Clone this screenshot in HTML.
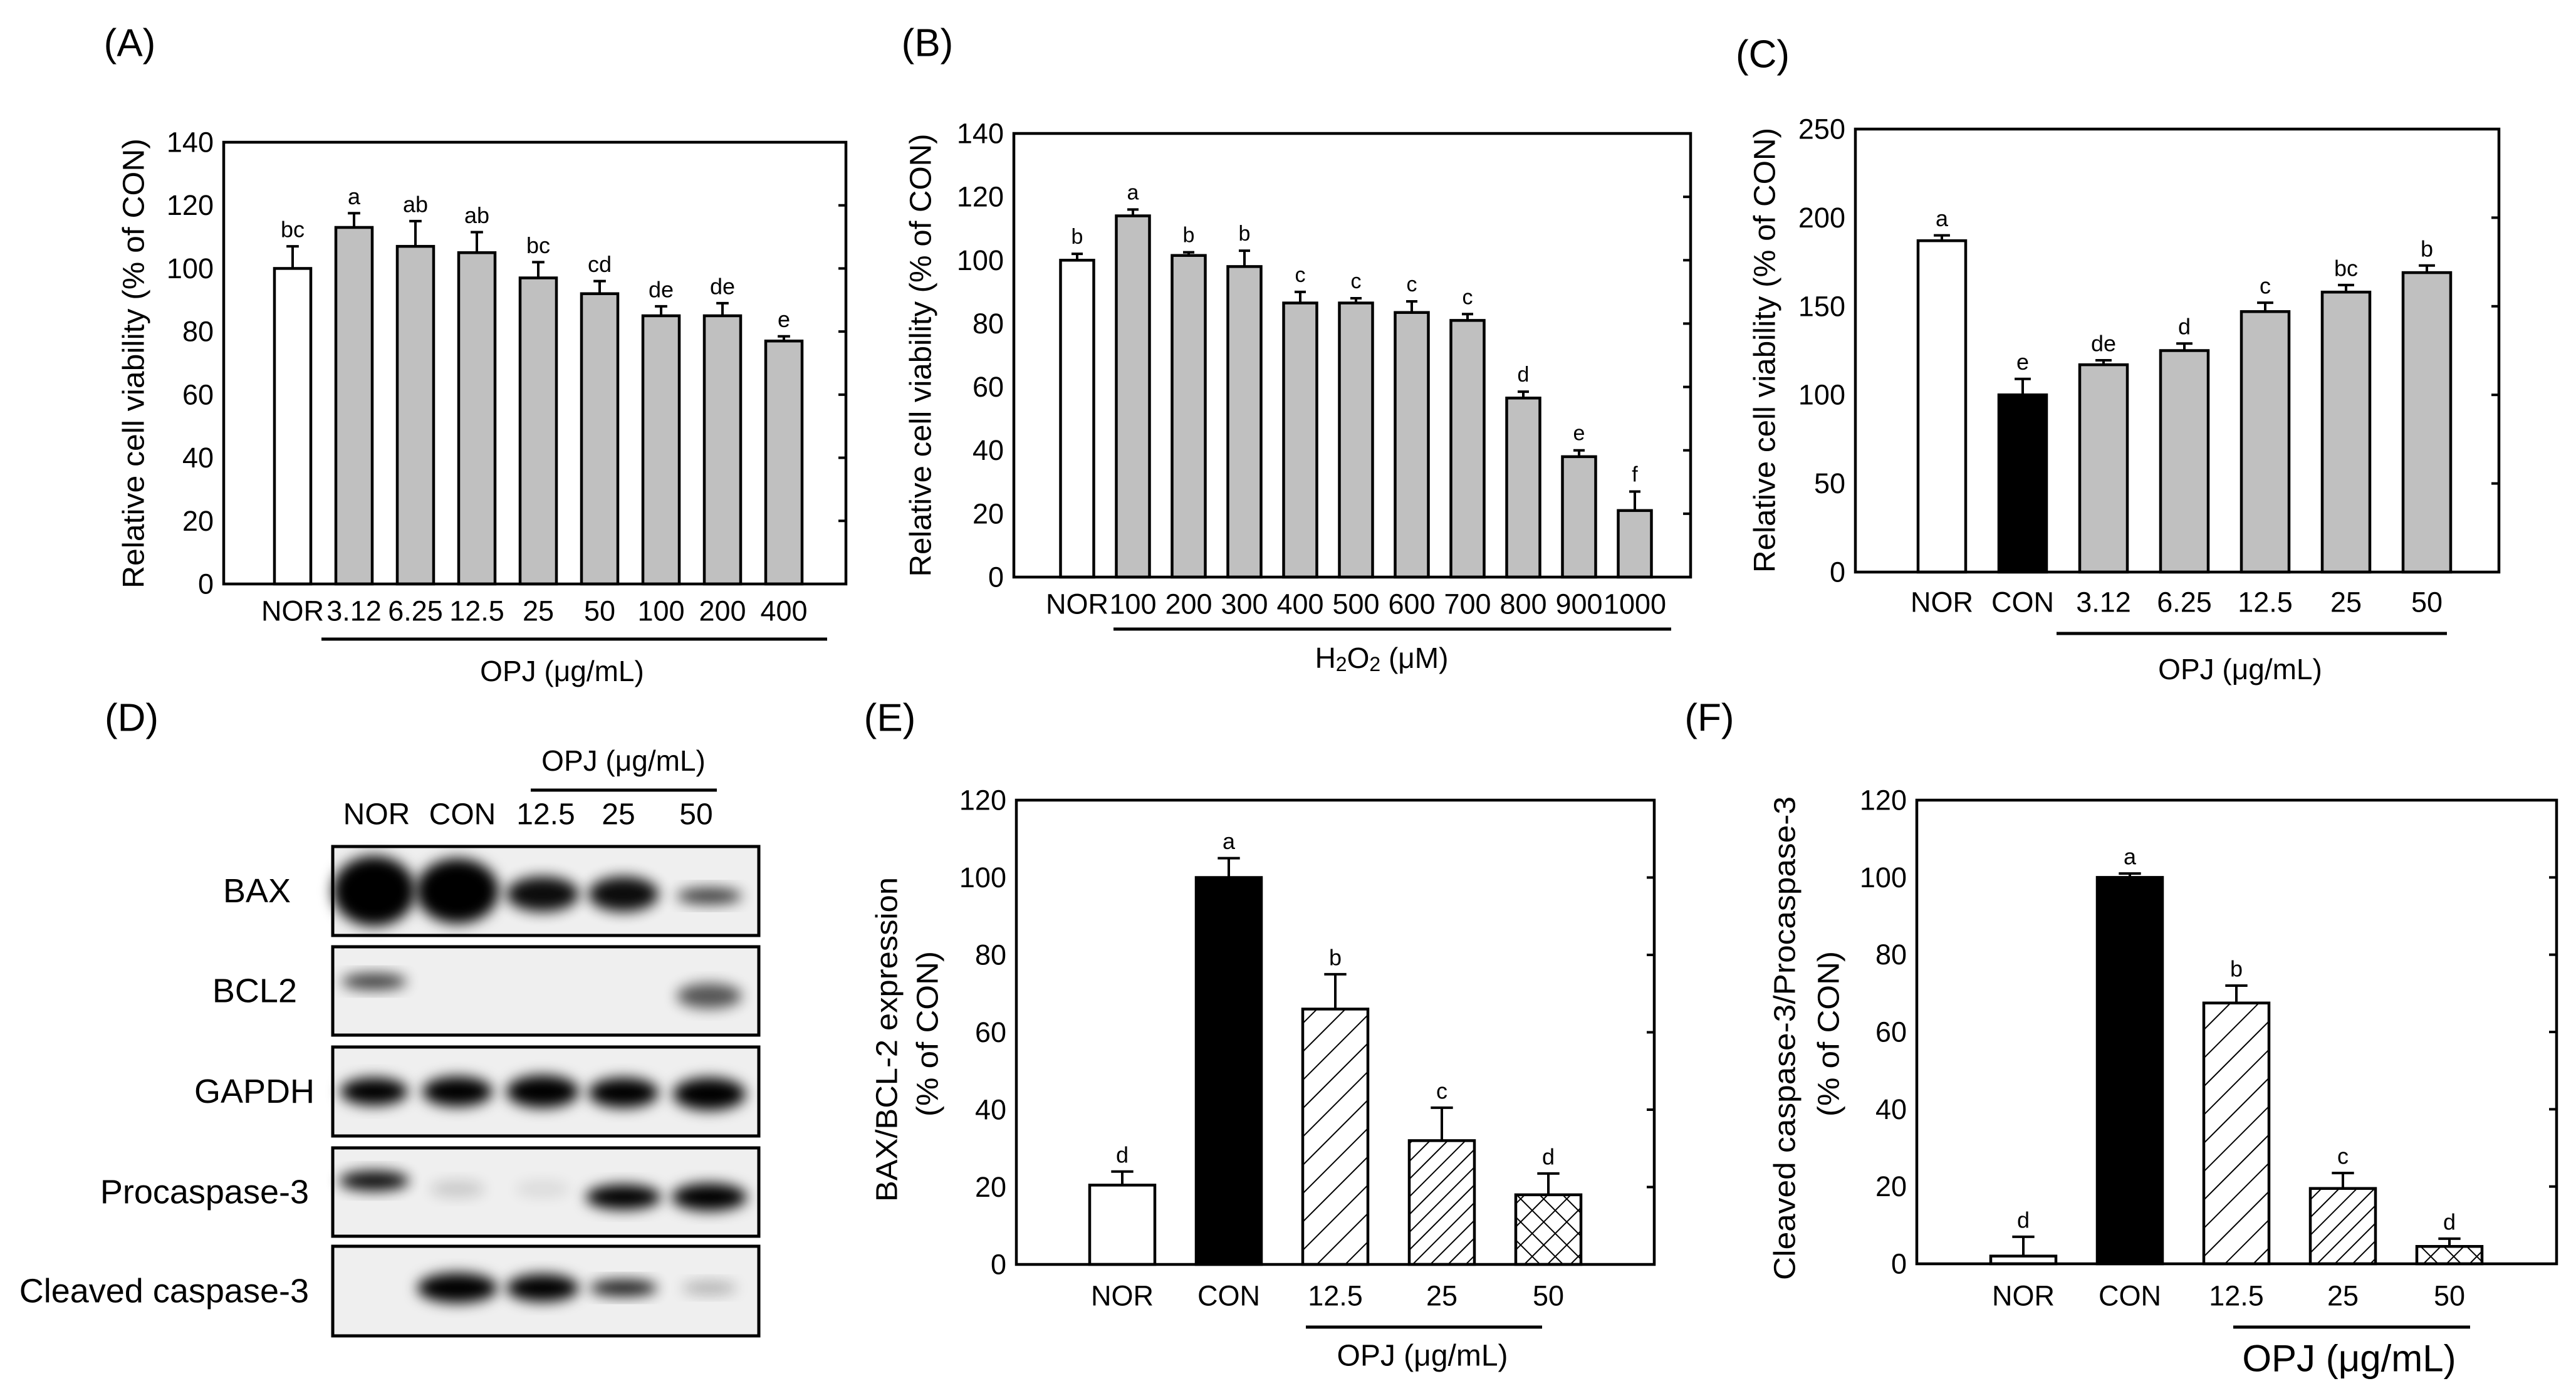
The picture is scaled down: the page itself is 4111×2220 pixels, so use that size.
<!DOCTYPE html>
<html><head><meta charset="utf-8"><style>
html,body{margin:0;padding:0;background:#fff;}
svg{display:block;font-family:"Liberation Sans",Arial,sans-serif;}
</style></head><body>
<svg id="fig" width="4111" height="2220" viewBox="0 0 4111 2220" xmlns="http://www.w3.org/2000/svg">
<defs>
<pattern id="hatchWide" patternUnits="userSpaceOnUse" width="32" height="32" patternTransform="rotate(45)">
<rect width="32" height="32" fill="#fff"/><line x1="0" y1="0" x2="0" y2="32" stroke="#000" stroke-width="4"/></pattern>
<pattern id="hatchNarrow" patternUnits="userSpaceOnUse" width="20" height="20" patternTransform="rotate(45)">
<rect width="20" height="20" fill="#fff"/><line x1="0" y1="0" x2="0" y2="20" stroke="#000" stroke-width="4"/></pattern>
<pattern id="crossHatch" patternUnits="userSpaceOnUse" width="26" height="26" patternTransform="rotate(45)">
<rect width="26" height="26" fill="#fff"/><line x1="0" y1="0" x2="0" y2="26" stroke="#000" stroke-width="4"/><line x1="0" y1="0" x2="26" y2="0" stroke="#000" stroke-width="4"/></pattern>
<filter id="blur" x="-50%" y="-50%" width="200%" height="200%"><feGaussianBlur stdDeviation="11"/></filter>
</defs>
<g id="root"></g>
</svg>
<script>
// Panel A
const catsA = ["NOR","3.12","6.25","12.5","25","50","100","200","400"];
const valsA = [100,113,107,105,97,92,85,85,77];
const errsA = [7,4.5,8,6.5,5,4,3,4,1.5];
const sigA = ["bc","a","ab","ab","bc","cd","de","de","e"];
const ticksA = [0,20,40,60,80,100,120,140];
// Panel B
const catsB = ["NOR","100","200","300","400","500","600","700","800","900","1000"];
const valsB = [100,114,101.5,98,86.5,86.5,83.5,81,56.5,38,21];
const errsB = [2,2,1,5,3.5,1.5,3.5,2,2,2,6];
const sigB = ["b","a","b","b","c","c","c","c","d","e","f"];
const ticksB = [0,20,40,60,80,100,120,140];
// Panel C
const catsC = ["NOR","CON","3.12","6.25","12.5","25","50"];
const valsC = [187,100,117,125,147,158,169];
const errsC = [3,9,2.5,4,5,4,4];
const sigC = ["a","e","de","d","c","bc","b"];
const ticksC = [0,50,100,150,200,250];
// Panel E
const catsE = ["NOR","CON","12.5","25","50"];
const valsE = [20.5,100,66,32,18];
const errsE = [3.5,5,9,8.5,5.5];
const sigE = ["d","a","b","c","d"];
const ticksE = [0,20,40,60,80,100,120];
// Panel F
const catsF = ["NOR","CON","12.5","25","50"];
const valsF = [2,100,67.5,19.5,4.5];
const errsF = [5,1,4.5,4,2];
const sigF = ["d","a","b","c","d"];
const ticksF = [0,20,40,60,80,100,120];

const NS = "http://www.w3.org/2000/svg";
const root = document.getElementById("root");
function mk(tag, attrs, parent){
  const e = document.createElementNS(NS, tag);
  for (const k in attrs) e.setAttribute(k, attrs[k]);
  (parent||root).appendChild(e);
  return e;
}
function txt(s, x, y, size, parent, extra){
  const t = mk("text", Object.assign({x:x, y:y, "font-size":size, "text-anchor":"middle", "dominant-baseline":"central", fill:"#000"}, extra||{}), parent);
  t.textContent = s;
  return t;
}

function chart(id, cfg, cats, vals, errs, sig, ticks, fills){
  const g = mk("g", {});
  
  
  const yMax = ticks[ticks.length-1];
  const y = v => cfg.y0 - (v / yMax) * (cfg.y0 - cfg.top);
  const x = i => cfg.x0 + i * cfg.step;
  ticks.forEach(t => {
    const l = mk("line", {x1:cfg.right-12, x2:cfg.right, y1:y(t), y2:y(t), stroke:"#000", "stroke-width":4}, g);
    
    
    const tl = txt(String(t), cfg.left-16, y(t), cfg.tickFont, g, {"text-anchor":"end"});
    
    
  });
  cats.forEach((c, i) => {
    const bx = x(i) - cfg.bw/2, top = y(vals[i]);
    const et = y(vals[i] + errs[i]);
    const eb = mk("line", {x1:x(i), x2:x(i), y1:top, y2:et, stroke:"#000", "stroke-width":4}, g);
    
    
    const ec = mk("line", {x1:x(i)-cfg.bw*0.17, x2:x(i)+cfg.bw*0.17, y1:et, y2:et, stroke:"#000", "stroke-width":4}, g);
    
    
    const r = mk("rect", {x:bx, y:top, width:cfg.bw, height:cfg.y0-top, fill:fills[i], stroke:"#000", "stroke-width":4.5}, g);
    
    
    const s = txt(sig[i], x(i), et - 27, cfg.sigFont, g);
    
    
    const xl = txt(c, x(i), cfg.xLabY, cfg.tickFont, g);
    
    
  });
  const fr = mk("path", {d:`M${cfg.left},${cfg.y0} L${cfg.left},${cfg.top} L${cfg.right},${cfg.top} L${cfg.right},${cfg.y0} Z`, fill:"none", stroke:"#000", "stroke-width":4.5}, g);
  
  
  const ul = mk("line", {x1:cfg.ul[0], x2:cfg.ul[1], y1:cfg.ulY, y2:cfg.ulY, stroke:"#000", "stroke-width":5}, g);
  
  
  return g;
}

const W = "#fff", G = "#c0c0c0", K = "#000";
chart("a", {left:357,right:1350,top:227,y0:932,x0:467,step:98,bw:58,tickFont:45,sigFont:36,xLabY:975,ul:[513,1320],ulY:1020},
  catsA, valsA, errsA, sigA, ticksA, [W,G,G,G,G,G,G,G,G]);
chart("b", {left:1618,right:2698,top:213,y0:921,x0:1719,step:89,bw:53,tickFont:45,sigFont:34,xLabY:964,ul:[1777,2667],ulY:1004},
  catsB, valsB, errsB, sigB, ticksB, [W,G,G,G,G,G,G,G,G,G,G]);
chart("c", {left:2961,right:3988,top:206,y0:913,x0:3099,step:129,bw:76,tickFont:45,sigFont:36,xLabY:961,ul:[3282,3905],ulY:1011},
  catsC, valsC, errsC, sigC, ticksC, [W,K,G,G,G,G,G]);
chart("e", {left:1622,right:2640,top:1277,y0:2018,x0:1791,step:170,bw:104,tickFont:45,sigFont:36,xLabY:2068,ul:[2084,2461],ulY:2118},
  catsE, valsE, errsE, sigE, ticksE, [W,K,"url(#hatchWide)","url(#hatchNarrow)","url(#crossHatch)"]);
chart("f", {left:3059,right:4080,top:1277,y0:2017,x0:3229,step:170,bw:104,tickFont:45,sigFont:36,xLabY:2068,ul:[3564,3942],ulY:2118},
  catsF, valsF, errsF, sigF, ticksF, [W,K,"url(#hatchWide)","url(#hatchNarrow)","url(#crossHatch)"]);

function label(s, x, y, size, name, extra){
  const t = txt(s, x, y, size, root, extra);
  
  
  return t;
}
label("(A)", 207, 69, 62, "panel-label-a");
label("(B)", 1480, 69, 62, "panel-label-b");
label("(C)", 2813, 87, 62, "panel-label-c");
label("(D)", 210, 1146, 62, "panel-label-d");
label("(E)", 1420, 1146, 62, "panel-label-e");
label("(F)", 2728, 1146, 62, "panel-label-f");

label("Relative cell viability (% of CON)", 0, 0, 48, "y-axis-title-a", {transform:"translate(214,580) rotate(-90)", textLength:718, lengthAdjust:"spacingAndGlyphs"});
label("Relative cell viability (% of CON)", 0, 0, 48, "y-axis-title-b", {transform:"translate(1470,567) rotate(-90)", textLength:707, lengthAdjust:"spacingAndGlyphs"});
label("Relative cell viability (% of CON)", 0, 0, 48, "y-axis-title-c", {transform:"translate(2817,559) rotate(-90)", textLength:710, lengthAdjust:"spacingAndGlyphs"});
label("BAX/BCL-2 expression", 0, 0, 48, "y-axis-title-e", {transform:"translate(1416,1659) rotate(-90)", textLength:518, lengthAdjust:"spacingAndGlyphs"});
label("(% of CON)", 0, 0, 48, "y-axis-subtitle-e", {transform:"translate(1481,1650) rotate(-90)", textLength:264, lengthAdjust:"spacingAndGlyphs"});
label("Cleaved caspase-3/Procaspase-3", 0, 0, 48, "y-axis-title-f", {transform:"translate(2849,1657) rotate(-90)", textLength:772, lengthAdjust:"spacingAndGlyphs"});
label("(% of CON)", 0, 0, 48, "y-axis-subtitle-f", {transform:"translate(2919,1650) rotate(-90)", textLength:264, lengthAdjust:"spacingAndGlyphs"});

label("OPJ (μg/mL)", 897, 1071, 46, "x-axis-title-a");
const h2 = label("", 2205, 1050, 46, "x-axis-title-b");
h2.innerHTML = 'H<tspan font-size="32" dy="10">2</tspan><tspan dy="-10">O</tspan><tspan font-size="32" dy="10">2</tspan><tspan dy="-10"> (μM)</tspan>';
label("OPJ (μg/mL)", 3575, 1068, 46, "x-axis-title-c");
label("OPJ (μg/mL)", 2270, 2164, 48, "x-axis-title-e");
label("OPJ (μg/mL)", 3749, 2168, 60, "x-axis-title-f");

// Panel D western blot
const lanes = ["NOR","CON","12.5","25","50"];
const laneX = [601,738,871,987,1111];
const bandX = [597,730,866,995,1132];
label("OPJ (μg/mL)", 995, 1214, 46, "blot-treatment-title");
const dl = mk("line", {x1:847, x2:1144, y1:1261, y2:1261, stroke:"#000", "stroke-width":5});


lanes.forEach((l, i) => label(l, laneX[i], 1300, 48, "lane-label"));
const rows = [
  {name:"BAX", y0:1351, y1:1493, lx:464,
   bands:[[0,1,66,56,0],[1,1,66,52,0],[2,0.95,58,28,5],[3,0.95,56,28,5],[4,0.75,52,13,8]]},
  {name:"BCL2", y0:1511, y1:1652, lx:474,
   bands:[[0,0.75,52,13,-15],[4,0.65,52,20,8]]},
  {name:"GAPDH", y0:1671, y1:1813, lx:502,
   bands:[[0,1,54,22,0],[1,1,56,24,0],[2,1,58,26,0],[3,1,56,24,2],[4,1,58,26,4]]},
  {name:"Procaspase-3", y0:1832, y1:1973, lx:493,
   bands:[[0,0.95,56,16,-18],[1,0.15,44,14,-5],[2,0.08,44,14,-5],[3,1,60,20,8],[4,1,60,22,8]]},
  {name:"Cleaved caspase-3", y0:1989, y1:2132, lx:493,
   bands:[[1,1,64,24,-5],[2,1,58,22,-5],[3,0.9,54,13,-5],[4,0.25,44,11,-5]]}
];
rows.forEach(r => {
  const g = mk("g", {});
  
  
  const bg = mk("rect", {x:531, y:r.y0, width:680, height:r.y1-r.y0, fill:"#efefef"}, g);
  
  
  const cy = (r.y0 + r.y1) / 2;
  r.bands.forEach(b => {
    const e = mk("ellipse", {cx:bandX[b[0]], cy:cy + b[4], rx:b[2], ry:b[3], fill:"#000", opacity:b[1], filter:"url(#blur)"}, g);
    
    
  });
  const fr = mk("rect", {x:531, y:r.y0, width:680, height:r.y1-r.y0, fill:"none", stroke:"#000", "stroke-width":5}, g);
  
  
  label(r.name, r.lx, cy, 54, "blot-row-label", {"text-anchor":"end"});
});
</script>
</body></html>
